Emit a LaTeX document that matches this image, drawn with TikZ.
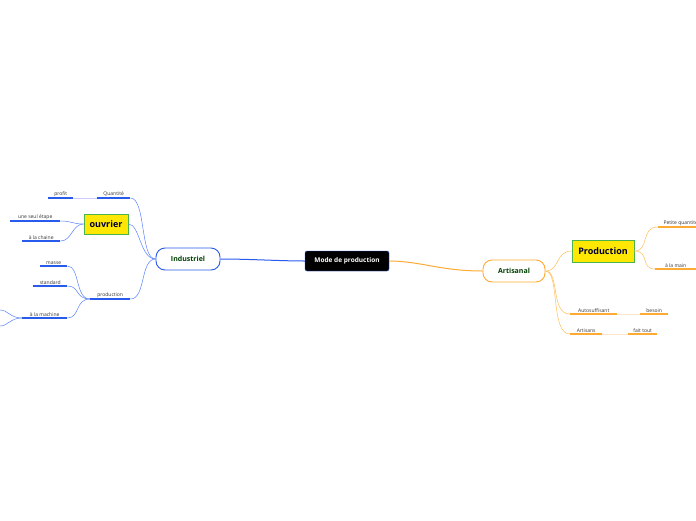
\documentclass[tikz,border=0pt]{standalone}
\usepackage{fontspec}
\setmainfont{Open Sans}
\definecolor{lineblue}{RGB}{90,130,250}
\definecolor{ulblue}{RGB}{40,90,235}
\definecolor{lineor}{RGB}{255,190,90}
\definecolor{ulor}{RGB}{255,170,50}
\begin{document}
\begin{tikzpicture}[x=1pt,y=-1pt]
  \tikzstyle{leaf}=[anchor=south west, inner sep=1pt, font=\fontsize{5}{6}\selectfont, text=black!80, align=center]
  \tikzstyle{bl}=[draw=lineblue, line width=0.5pt]
  \tikzstyle{or}=[draw=lineor, line width=0.5pt]
  \tikzstyle{ulb}=[draw=ulblue, line width=1.4pt]
  \tikzstyle{ulo}=[draw=ulor, line width=1.4pt]
  \tikzstyle{topic}=[rounded corners=9pt, fill=white, line width=0.9pt, minimum height=22pt, font=\fontsize{7}{8}\selectfont\bfseries, text=green!25!black]
  \tikzstyle{yellowbox}=[fill=yellow!90!orange, draw=green!40!gray, line width=0.6pt, font=\fontsize{9}{10}\selectfont\bfseries, text=blue!20!black]
  \useasboundingbox (0,0) rectangle (696,520);

  % Main nodes
  \node[fill=black, draw=ulblue, rounded corners=2pt, text=white, font=\fontsize{6.5}{8}\selectfont\bfseries, minimum width=84pt, minimum height=20pt] (root) at (347,261) {Mode de production};
  \node[topic, draw=ulblue, minimum width=64pt] (ind) at (188,259) {Industriel};
  \node[topic, draw=ulor, minimum width=62pt] (art) at (514,271) {Artisanal};
  \draw[draw=ulblue, line width=1pt] (root.west) .. controls (280,261) and (250,259) .. (ind.east);
  \draw[draw=ulor, line width=1pt] (root.east) .. controls (420,261) and (440,271) .. (art.west);

  % Industriel side
  \node[leaf, minimum width=33pt] (quant) at (97,198) {Quantité};
  \node[leaf, minimum width=25pt] (profit) at (48,198) {profit};
  \node[yellowbox, minimum width=44pt, minimum height=20pt] (ouv) at (106,224) {ouvrier};
  \node[leaf, minimum width=50pt] (etape) at (10,221) {une seul étape};
  \node[leaf, minimum width=38pt] (chaine) at (22,241) {à la chaine};
  \node[leaf, minimum width=40pt] (prod) at (90,299) {production};
  \node[leaf, minimum width=27pt] (masse) at (40,266) {masse};
  \node[leaf, minimum width=34pt] (std) at (33,286) {standard};
  \node[leaf, minimum width=45pt] (mach) at (22,318) {à la machine};
  \coordinate (m1) at (0,310);
  \coordinate (m2) at (0,326);

  \foreach \n in {quant,profit,etape,chaine,prod,masse,std,mach}
    \draw[ulb] (\n.south west) -- (\n.south east);
  \draw[draw=blue!20!white, line width=1pt] (profit.south east) -- (quant.south west);

  \draw[bl] (ind.west) .. controls (140,259) and (146,198) .. (quant.south east);
  \draw[bl] (ind.west) .. controls (140,259) and (140,224) .. (ouv.east);
  \draw[bl] (ind.west) .. controls (140,259) and (146,299) .. (prod.south east);
  \draw[bl] (ouv.west) .. controls (72,224) and (72,221) .. (etape.south east);
  \draw[bl] (ouv.west) .. controls (72,224) and (72,241) .. (chaine.south east);
  \draw[bl] (prod.south west) .. controls (75,299) and (80,266) .. (masse.south east);
  \draw[bl] (prod.south west) .. controls (75,299) and (80,286) .. (std.south east);
  \draw[bl] (prod.south west) .. controls (75,299) and (80,318) .. (mach.south east);
  \draw[bl] (mach.south west) .. controls (10,318) and (8,310) .. (m1);
  \draw[bl] (mach.south west) .. controls (10,318) and (8,326) .. (m2);

  % Artisanal side
  \node[yellowbox, minimum width=62pt, minimum height=22pt] (prodA) at (603,251) {Production};
  \node[leaf, anchor=south west, minimum width=45pt] (petite) at (658,227) {Petite quantité};
  \node[leaf, minimum width=41pt] (main) at (655,269) {à la main};
  \node[leaf, minimum width=47pt] (auto) at (570,314) {Autosuffisant};
  \node[leaf, minimum width=28pt] (besoin) at (640,314) {besoin};
  \node[leaf, minimum width=32pt] (artis) at (570,334) {Artisans};
  \node[leaf, minimum width=29pt] (fait) at (628,334) {fait tout};

  \foreach \n in {main,auto,besoin,artis,fait}
    \draw[ulo] (\n.south west) -- (\n.south east);
  \draw[ulo] (petite.south west) -- (696,227);
  \draw[draw=orange!20!white, line width=1pt] (auto.south east) -- (besoin.south west);
  \draw[draw=orange!20!white, line width=1pt] (artis.south east) -- (fait.south west);

  \draw[or] (art.east) .. controls (560,271) and (555,251) .. (prodA.west);
  \draw[or] (art.east) .. controls (560,271) and (550,314) .. (auto.south west);
  \draw[or] (art.east) .. controls (560,271) and (550,334) .. (artis.south west);
  \draw[or] (prodA.east) .. controls (650,251) and (640,227) .. (petite.south west);
  \draw[or] (prodA.east) .. controls (650,251) and (640,269) .. (main.south west);
\end{tikzpicture}
\end{document}
